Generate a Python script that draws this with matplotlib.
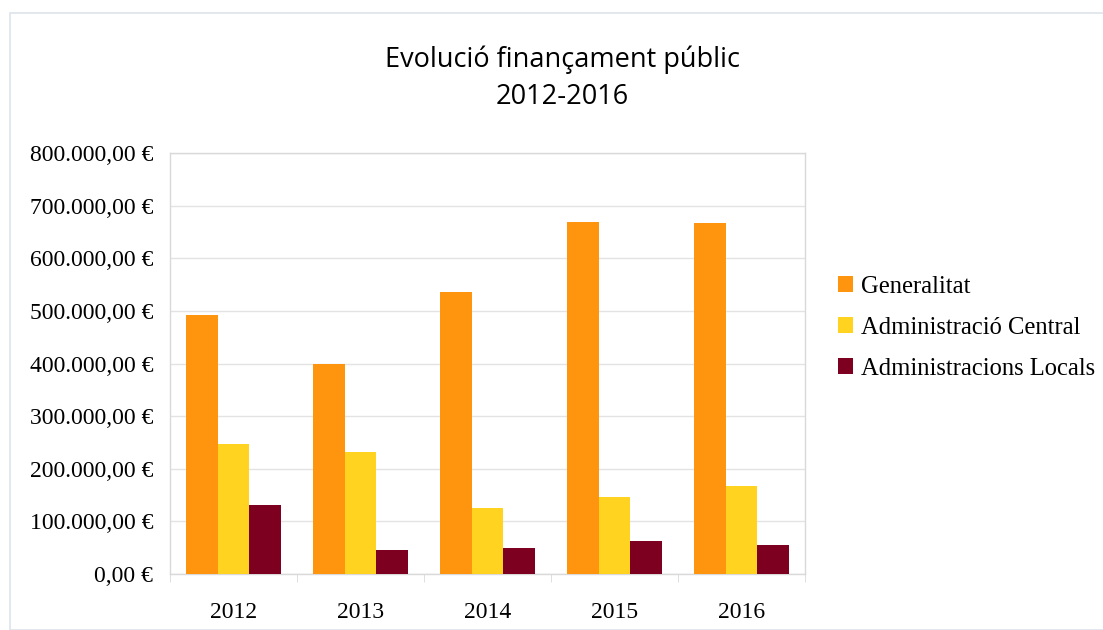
import matplotlib.pyplot as plt
from matplotlib.patches import Rectangle
from matplotlib.ticker import FuncFormatter
import numpy as np

years = ["2012", "2013", "2014", "2015", "2016"]
generalitat = [492000, 399000, 535000, 669000, 667000]
central = [247000, 232000, 125000, 146000, 167000]
locals_ = [132000, 46000, 50000, 62000, 55000]

series = [
    ("Generalitat", generalitat, "#ff950e"),
    ("Administració Central", central, "#ffd320"),
    ("Administracions Locals", locals_, "#7e0021"),
]

serif = "Liberation Serif"

fig = plt.figure(figsize=(11.03, 6.30), dpi=100)
fig.patches.append(Rectangle((10 / 1103, 0), 1.0, 1 - 13 / 630, transform=fig.transFigure,
                             fill=False, edgecolor="#dde4ea", linewidth=1.2))

ax = fig.add_axes([170 / 1103, 1 - 574 / 630, 635 / 1103, 421 / 630])

x = np.arange(len(years))
w = 0.25
for i, (name, vals, col) in enumerate(series):
    ax.bar(x + (i - 1) * w, vals, width=w, color=col, label=name, zorder=3)

ax.set_xlim(-0.5, len(years) - 0.5)
ax.set_ylim(0, 800000)
ax.set_yticks(np.arange(0, 800001, 100000))
ax.yaxis.set_major_formatter(FuncFormatter(
    lambda v, p: "{:,.2f}".format(v).replace(",", "X").replace(".", ",").replace("X", ".") + " €"))
ax.set_xticks(x)
ax.set_xticklabels(years)
ax.set_xticks(np.arange(-0.5, len(years), 1), minor=True)

ax.grid(axis="y", color="#e3e3e3", linewidth=1, zorder=0)
for s in ax.spines.values():
    s.set_color("#d9d9d9")
    s.set_linewidth(1)

ax.tick_params(axis="y", length=0, pad=12, labelsize=17)
ax.tick_params(axis="x", which="major", length=0, pad=20, labelsize=17)
ax.tick_params(axis="x", which="minor", length=6, color="#d9d9d9")
for lbl in ax.get_xticklabels() + ax.get_yticklabels():
    lbl.set_fontfamily(serif)

fig.text(0.51, 1 - 60 / 630, "Evolució finançament públic", ha="center", va="center",
         fontsize=19.5, family="Open Sans")
fig.text(0.51, 1 - 97 / 630, "2012-2016", ha="center", va="center",
         fontsize=19.5, family="Open Sans")

ax.legend(loc="center left", bbox_to_anchor=(816 / 635 - 170 / 635, 0.585), frameon=False,
          prop={"family": serif, "size": 17.7}, handlelength=0.6, handleheight=0.6,
          handletextpad=0.35, labelspacing=0.78)

fig.savefig("out.png", dpi=100)
